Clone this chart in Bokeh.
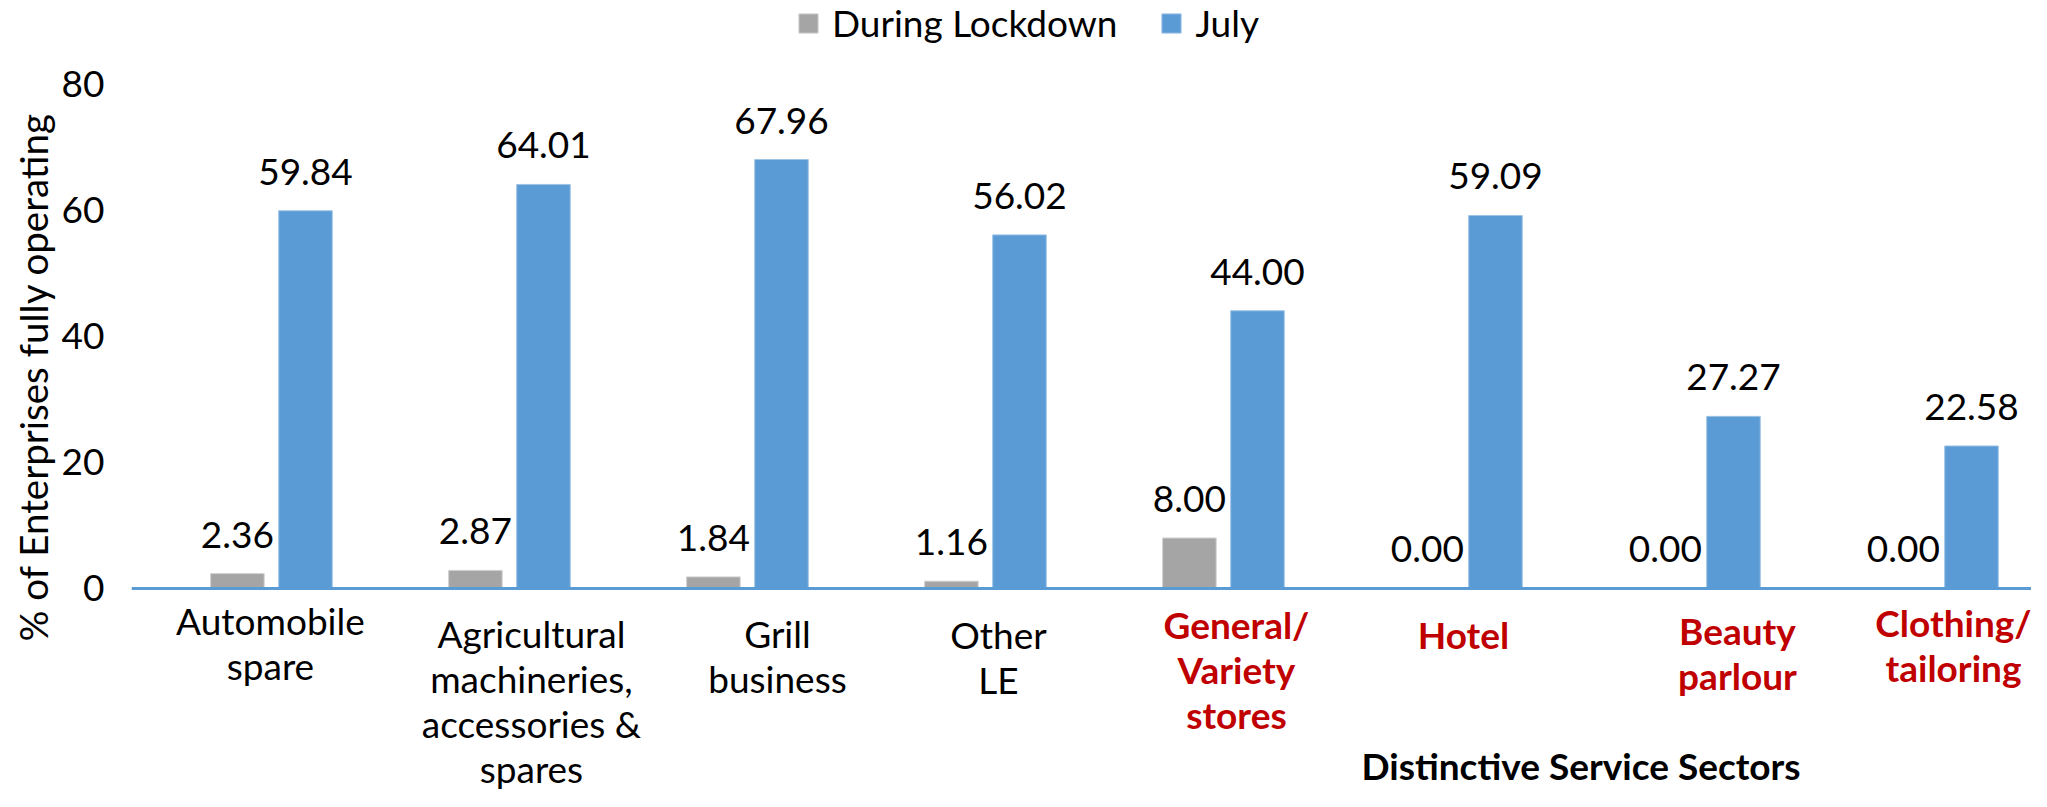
from bokeh.plotting import figure
from bokeh.models import Range1d, FixedTicker, Span, Label, Legend, LegendItem, ColumnDataSource, Title
from bokeh.core.properties import value
from bokeh.embed import file_html
from bokeh.resources import INLINE

# ---------------- data ----------------
categories = ["Automobile\nspare",
              "Agricultural\nmachineries,\naccessories &\nspares",
              "Grill\nbusiness",
              "Other\nLE",
              "General/\nVariety\nstores",
              "Hotel",
              "Beauty\nparlour",
              "Clothing/\ntailoring"]
lockdown = [2.36, 2.87, 1.84, 1.16, 8.00, 0.00, 0.00, 0.00]
july = [59.84, 64.01, 67.96, 56.02, 44.00, 59.09, 27.27, 22.58]
y_ticks = [0, 20, 40, 60, 80]
series_names = ["During Lockdown", "July"]
n_general = 4          # first four categories are general; the rest are service sectors
group_title = "Distinctive  Service Sectors"
y_title = "% of Enterprises fully operating"

# ---------------- style ----------------
FONT = "Lato"
FS = "37px"
GRAY = "#A5A5A5"
BLUE = "#5B9BD5"
RED = "#C00000"
W, H = 2031, 791
LEFT = 131
label_dx = [-1, 22, 30, 13, 13, 2, 38, 16]       # px shifts of category labels
label_dy = [10, 23, 23, 24, 14, 24, 20, 12]      # px below zero line
bar_w = 0.225
off = 0.143

xs = [i + 0.5 for i in range(len(categories))]
src = ColumnDataSource(dict(
    x_l=[x - off for x in xs], x_j=[x + off for x in xs],
    lock=lockdown, jul=july,
    lock_t=[f"{v:.2f}" for v in lockdown], jul_t=[f"{v:.2f}" for v in july],
))

p = figure(width=W, height=H, output_backend="svg", toolbar_location=None,
           x_range=Range1d(-0.088, -0.088 + (W - LEFT) / 238.0),
           y_range=Range1d(-32.16, 93.15),
           x_axis_location=None, min_border=0, min_border_left=LEFT)
p.outline_line_color = None
p.grid.visible = False
p.background_fill_color = "white"

ya = p.yaxis[0]
ya.ticker = FixedTicker(ticks=y_ticks)
ya.axis_line_color = None
ya.major_tick_line_color = None
ya.minor_tick_line_color = None
ya.major_label_standoff = 21
ya.major_label_text_font = FONT
ya.major_label_text_font_size = FS
ya.major_label_text_color = "black"

p.add_layout(Title(text=y_title, align="left", offset=150, standoff=6,
                   text_font=FONT, text_font_size="38.5px", text_font_style="normal",
                   text_color="black"), "left")

r1 = p.vbar(x="x_l", top="lock", width=bar_w, source=src, fill_color=GRAY, line_color="#d0d0d0", line_width=1)
r2 = p.vbar(x="x_j", top="jul", width=bar_w, source=src, fill_color=BLUE, line_color="#9dc3e6", line_width=1)

p.add_layout(Span(location=0, dimension="width", line_color=BLUE, line_width=3))

for xcol, ycol, tcol in (("x_l", "lock", "lock_t"), ("x_j", "jul", "jul_t")):
    p.text(x=xcol, y=ycol, text=tcol, source=src, text_align="center", text_baseline="alphabetic",
           y_offset=-39, text_font=value(FONT), text_font_size=FS, text_color="black")

# category labels
gen = slice(0, n_general)
srv = slice(n_general, len(categories))
for sl, color, style in ((gen, "black", "normal"), (srv, RED, "bold")):
    p.text(x=xs[sl], y=[0] * len(xs[sl]), text=categories[sl],
           x_offset=label_dx[sl], y_offset=label_dy[sl],
           text_align="center", text_baseline="top", text_line_height=1.0,
           text_font=value(FONT), text_font_size=FS, text_font_style=style, text_color=color)

p.add_layout(Label(x=1454, y=26, x_units="screen", y_units="screen", text=group_title,
                   text_align="center", text_baseline="alphabetic",
                   text_font=FONT, text_font_size=FS, text_font_style="bold", text_color="black"))

legend = Legend(items=[LegendItem(label=series_names[0], renderers=[r1]),
                       LegendItem(label=series_names[1], renderers=[r2])],
                location=(665, 746), orientation="horizontal",
                glyph_width=24, glyph_height=24, label_standoff=12, spacing=42,
                padding=0, margin=0, border_line_color=None, background_fill_alpha=0,
                label_text_font=FONT, label_text_font_size=FS, label_text_color="black")
p.add_layout(legend)

open("out.html", "w").write(file_html(p, INLINE))
